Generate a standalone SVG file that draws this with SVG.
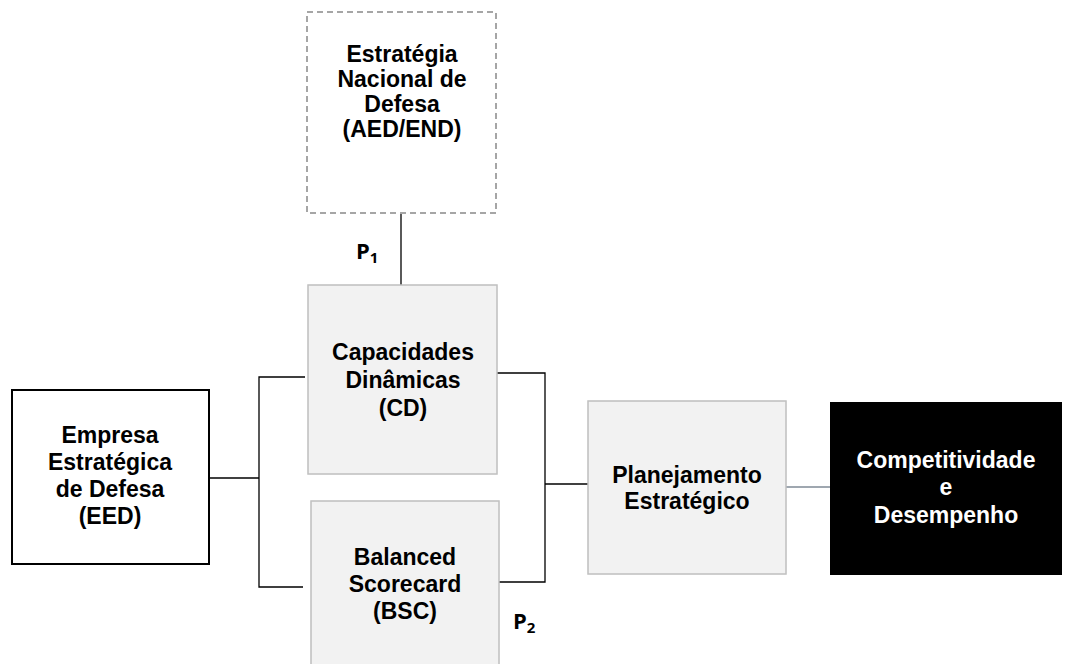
<svg xmlns="http://www.w3.org/2000/svg" width="1079" height="664" viewBox="0 0 1079 664">
<style>
.t{font-family:"Liberation Sans",Arial,sans-serif;font-weight:bold;font-size:23px;text-anchor:middle;fill:#000}
.w{fill:#fff}
.gray{fill:#f2f2f2;stroke:#bfbfbf;stroke-width:1.5}
.ln{stroke:#000;stroke-width:1.3;fill:none}
.p{font-family:"Open Sans","Noto Sans",sans-serif;font-weight:bold;font-size:22px;fill:#000}
</style>
<rect width="1079" height="664" fill="#fff"/>
<g id="connectors">
<line class="ln" x1="401" y1="213" x2="401" y2="285"/>
<polyline class="ln" points="305,377 259,377 259,587 303,587"/>
<line class="ln" x1="209" y1="478" x2="259" y2="478"/>
<polyline class="ln" points="497,373 545,373 545,582 499,582"/>
<line class="ln" x1="545" y1="484" x2="588" y2="484"/>
<line x1="786" y1="487" x2="830" y2="487" stroke="#7f8a96" stroke-width="1.5"/>
</g>
<g id="p1"><text class="p" x="356" y="259">P<tspan font-size="15" dy="4">1</tspan></text></g>
<g id="p2"><text class="p" x="513" y="629">P<tspan font-size="15" dy="4">2</tspan></text></g>
<g id="end">
<rect x="307" y="12" width="189" height="201" fill="#fff" stroke="#a6a6a6" stroke-width="2" stroke-dasharray="6,4"/>
<text class="t" x="402" y="62">Estratégia</text>
<text class="t" x="402" y="87">Nacional de</text>
<text class="t" x="402" y="112">Defesa</text>
<text class="t" x="402" y="137">(AED/END)</text>
</g>
<g id="cd">
<rect class="gray" x="308" y="285" width="189" height="189"/>
<text class="t" x="403" y="360">Capacidades</text>
<text class="t" x="403" y="388">Dinâmicas</text>
<text class="t" x="403" y="416">(CD)</text>
</g>
<g id="bsc">
<rect class="gray" x="311" y="501" width="188" height="175"/>
<text class="t" x="405" y="565">Balanced</text>
<text class="t" x="405" y="592">Scorecard</text>
<text class="t" x="405" y="619">(BSC)</text>
</g>
<g id="eed">
<rect x="12" y="390" width="197" height="174" fill="#fff" stroke="#000" stroke-width="2"/>
<text class="t" x="110" y="443">Empresa</text>
<text class="t" x="110" y="470">Estratégica</text>
<text class="t" x="110" y="497">de Defesa</text>
<text class="t" x="110" y="524">(EED)</text>
</g>
<g id="pe">
<rect class="gray" x="588" y="401" width="198" height="173"/>
<text class="t" x="687" y="483">Planejamento</text>
<text class="t" x="687" y="509">Estratégico</text>
</g>
<g id="cdp">
<rect x="830" y="402" width="232" height="173" fill="#000"/>
<text class="t w" x="946" y="468">Competitividade</text>
<text class="t w" x="946" y="495">e</text>
<text class="t w" x="946" y="523">Desempenho</text>
</g>
</svg>
